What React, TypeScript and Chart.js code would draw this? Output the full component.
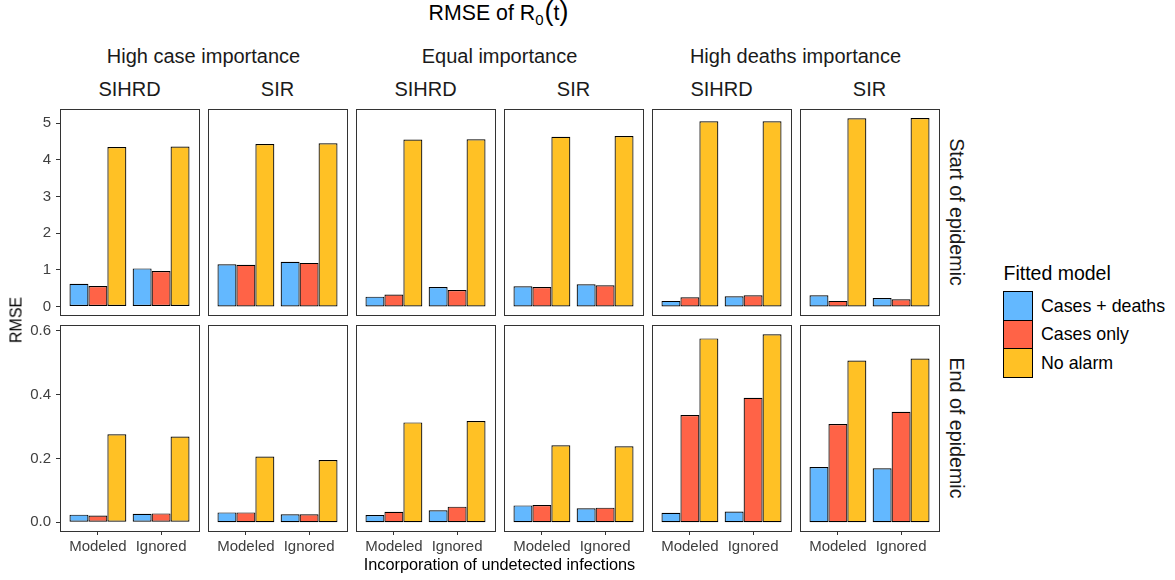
import React, { useEffect, useRef } from 'react';
import { Chart, registerables } from 'chart.js';

Chart.register(...registerables);

const FONT = '"Liberation Sans", Arial, Helvetica, sans-serif';

// ---------- data ----------
const incorporation = ['Modeled', 'Ignored'];
const importanceLevels = ['High case importance', 'Equal importance', 'High deaths importance'];
const modelTypes = ['SIHRD', 'SIR'];
const periods = ['Start of epidemic', 'End of epidemic'];
const fittedModels = ['Cases + deaths', 'Cases only', 'No alarm'];
const fittedColors = ['#63B8FF', '#FF6347', '#FFC125'];

// panel order: HighCase-SIHRD, HighCase-SIR, Equal-SIHRD, Equal-SIR, HighDeaths-SIHRD, HighDeaths-SIR
// each pair: [Modeled, Ignored]
const startCasesDeaths = [[0.62, 1.04], [1.15, 1.22], [0.27, 0.53], [0.555, 0.61], [0.155, 0.28], [0.31, 0.23]];
const startCasesOnly = [[0.56, 0.97], [1.14, 1.19], [0.33, 0.45], [0.53, 0.58], [0.255, 0.31], [0.155, 0.2]];
const startNoAlarm = [[4.35, 4.36], [4.43, 4.45], [4.555, 4.56], [4.63, 4.65], [5.05, 5.05], [5.13, 5.14]];

const endCasesDeaths = [[0.024, 0.027], [0.031, 0.025], [0.023, 0.038], [0.053, 0.044], [0.03, 0.034], [0.173, 0.169]];
const endCasesOnly = [[0.021, 0.028], [0.031, 0.025], [0.033, 0.049], [0.054, 0.046], [0.336, 0.39], [0.308, 0.346]];
const endNoAlarm = [[0.276, 0.269], [0.206, 0.195], [0.313, 0.317], [0.241, 0.238], [0.576, 0.589], [0.507, 0.513]];

const startTicks = [0, 1, 2, 3, 4, 5];
const endTicks = [0, 0.2, 0.4, 0.6];

const rowSeries = [
  [startCasesDeaths, startCasesOnly, startNoAlarm],
  [endCasesDeaths, endCasesOnly, endNoAlarm],
];
const rowTicks = [startTicks, endTicks];
const rowRange = [
  [-0.23, 5.385],
  [-0.0272, 0.618],
];

// ---------- layout ----------
const PANEL_LEFTS = [60, 208, 356, 504, 652, 800];
const PANEL_W = 139;
const ROW_TOPS = [109, 325];
const PANEL_H = 206;
const X_AXIS_H = 30;
const TICK_COLOR = '#333333';
const TICK_TEXT = '#404040';

const borderPlugin = {
  id: 'panelBorder',
  afterDraw(chart: any) {
    const { ctx, chartArea: a } = chart;
    ctx.save();
    ctx.strokeStyle = '#333333';
    ctx.lineWidth = 1;
    ctx.strokeRect(a.left + 0.5, a.top + 0.5, a.right - a.left, a.bottom - a.top);
    ctx.restore();
  },
};

function Panel({ row, col }: { row: number; col: number }) {
  const ref = useRef<HTMLCanvasElement>(null);
  const CL = PANEL_LEFTS[col];
  const CT = ROW_TOPS[row];
  const first = col === 0;
  const bottom = row === 1;
  const padL = first ? CL : 3;
  const canvasLeft = CL - padL;
  const canvasTop = CT - 3;
  const width = padL + PANEL_W + 3;
  const height = 3 + PANEL_H + (bottom ? X_AXIS_H : 3);

  useEffect(() => {
    const series = rowSeries[row];
    const ticks = rowTicks[row];
    const [ymin, ymax] = rowRange[row];
    const chart = new Chart(ref.current as HTMLCanvasElement, {
      type: 'bar',
      data: {
        datasets: fittedModels.map((name, k) => ({
          label: name,
          data: series[k][col].map((v, i) => ({ x: i + 1, y: v })),
          backgroundColor: fittedColors[k],
          borderColor: '#000000',
          borderWidth: 1.2,
          borderSkipped: false,
          barPercentage: 1,
          categoryPercentage: 0.9,
          inflateAmount: 0,
        })),
      } as any,
      options: {
        animation: false,
        responsive: false,
        maintainAspectRatio: false,
        events: [],
        layout: { padding: { left: first ? 0 : 3, right: 3, top: 3, bottom: bottom ? 0 : 3 } },
        plugins: {
          legend: { display: false },
          tooltip: { enabled: false },
          title: { display: false },
        },
        scales: {
          x: {
            type: 'linear',
            min: 0.4,
            max: 2.6,
            offset: false,
            display: bottom,
            afterBuildTicks: (s: any) => {
              s.ticks = incorporation.map((_, i) => ({ value: i + 1 }));
            },
            afterFit: (s: any) => {
              s.height = bottom ? X_AXIS_H : 0;
              s.paddingLeft = 0;
              s.paddingRight = 0;
            },
            grid: {
              offset: false,
              drawOnChartArea: false,
              drawTicks: true,
              tickLength: 4,
              tickColor: TICK_COLOR,
              tickWidth: 1,
            },
            border: { display: false },
            ticks: {
              autoSkip: false,
              maxRotation: 0,
              minRotation: 0,
              padding: 3,
              color: TICK_TEXT,
              font: { family: FONT, size: 15 },
              callback: (v: any) => incorporation[Math.round(Number(v)) - 1] ?? '',
            },
          },
          y: {
            type: 'linear',
            min: ymin,
            max: ymax,
            display: first,
            afterBuildTicks: (s: any) => {
              s.ticks = ticks.map((v) => ({ value: v }));
            },
            afterFit: (s: any) => {
              s.width = first ? CL : 0;
              s.paddingTop = 0;
              s.paddingBottom = 0;
            },
            grid: {
              drawOnChartArea: false,
              drawTicks: true,
              tickLength: 4,
              tickColor: TICK_COLOR,
              tickWidth: 1,
            },
            border: { display: false },
            ticks: {
              padding: 5,
              color: TICK_TEXT,
              font: { family: FONT, size: 15 },
              callback: (v: any) => (row === 0 ? String(v) : Number(v).toFixed(1)),
            },
          },
        },
      } as any,
      plugins: [borderPlugin],
    });
    return () => chart.destroy();
  }, [row, col]);

  return (
    <canvas
      ref={ref}
      width={width}
      height={height}
      style={{ position: 'absolute', left: canvasLeft, top: canvasTop, width, height }}
    />
  );
}

function Label({
  x,
  y,
  size,
  rotate = 0,
  color = '#1A1A1A',
  children,
}: {
  x: number;
  y: number;
  size: number;
  rotate?: number;
  color?: string;
  children: any;
}) {
  return (
    <div
      style={{
        position: 'absolute',
        left: x,
        top: y,
        transform: `translate(-50%, -50%) rotate(${rotate}deg)`,
        fontSize: size,
        lineHeight: `${Math.round(size * 1.2)}px`,
        whiteSpace: 'nowrap',
        color,
        fontFamily: FONT,
      }}
    >
      {children}
    </div>
  );
}

export default function App() {
  const panels: any[] = [];
  periods.forEach((_, r) => {
    PANEL_LEFTS.forEach((__, c) => {
      panels.push(<Panel key={`${r}-${c}`} row={r} col={c} />);
    });
  });

  const gridLeft = PANEL_LEFTS[0];
  const gridRight = PANEL_LEFTS[PANEL_LEFTS.length - 1] + PANEL_W;
  const gridCenter = (gridLeft + gridRight) / 2;

  return (
    <div
      style={{
        position: 'absolute',
        left: 0,
        top: 0,
        width: 1175,
        height: 580,
        background: '#ffffff',
        overflow: 'hidden',
        fontFamily: FONT,
      }}
    >
      {panels}

      {/* title */}
      <Label x={gridCenter - 1} y={13} size={21.3} color="#000000">
        RMSE of R
        <span style={{ fontSize: 15, position: 'relative', top: 5 }}>0</span>
        <span style={{ fontSize: 27, marginLeft: 1 }}>(</span>t<span style={{ fontSize: 27 }}>)</span>
      </Label>

      {/* importance strips */}
      {importanceLevels.map((lab, k) => (
        <Label
          key={lab}
          x={(PANEL_LEFTS[2 * k] + PANEL_LEFTS[2 * k + 1] + PANEL_W) / 2}
          y={55.5}
          size={20}
        >
          {lab}
        </Label>
      ))}

      {/* model type strips */}
      {PANEL_LEFTS.map((l, c) => (
        <Label key={`m${c}`} x={l + PANEL_W / 2} y={88.5} size={20}>
          {modelTypes[c % 2]}
        </Label>
      ))}

      {/* period strips */}
      {periods.map((p, r) => (
        <Label key={p} x={957} y={ROW_TOPS[r] + PANEL_H / 2} size={19.7} rotate={90}>
          {p}
        </Label>
      ))}

      {/* axis titles */}
      <Label x={15.5} y={320} size={16} rotate={-90} color="#000000">
        RMSE
      </Label>
      <Label x={gridCenter} y={564} size={16.3} color="#000000">
        Incorporation of undetected infections
      </Label>

      {/* legend */}
      <div
        style={{
          position: 'absolute',
          left: 1003.5,
          top: 273.3,
          transform: 'translateY(-50%)',
          fontSize: 19.5,
          lineHeight: '23px',
          whiteSpace: 'nowrap',
          color: '#000000',
        }}
      >
        Fitted model
      </div>
      {fittedModels.map((name, k) => (
        <React.Fragment key={name}>
          <div
            style={{
              position: 'absolute',
              left: 1003,
              top: 291 + k * 28.5,
              width: 30,
              height: 29.5,
              boxSizing: 'border-box',
              border: '1px solid #000000',
              background: fittedColors[k],
            }}
          />
          <div
            style={{
              position: 'absolute',
              left: 1041,
              top: 291 + k * 28.5 + 14.75,
              transform: 'translateY(-50%)',
              fontSize: 17.8,
              lineHeight: '21px',
              whiteSpace: 'nowrap',
              color: '#000000',
            }}
          >
            {name}
          </div>
        </React.Fragment>
      ))}
    </div>
  );
}
